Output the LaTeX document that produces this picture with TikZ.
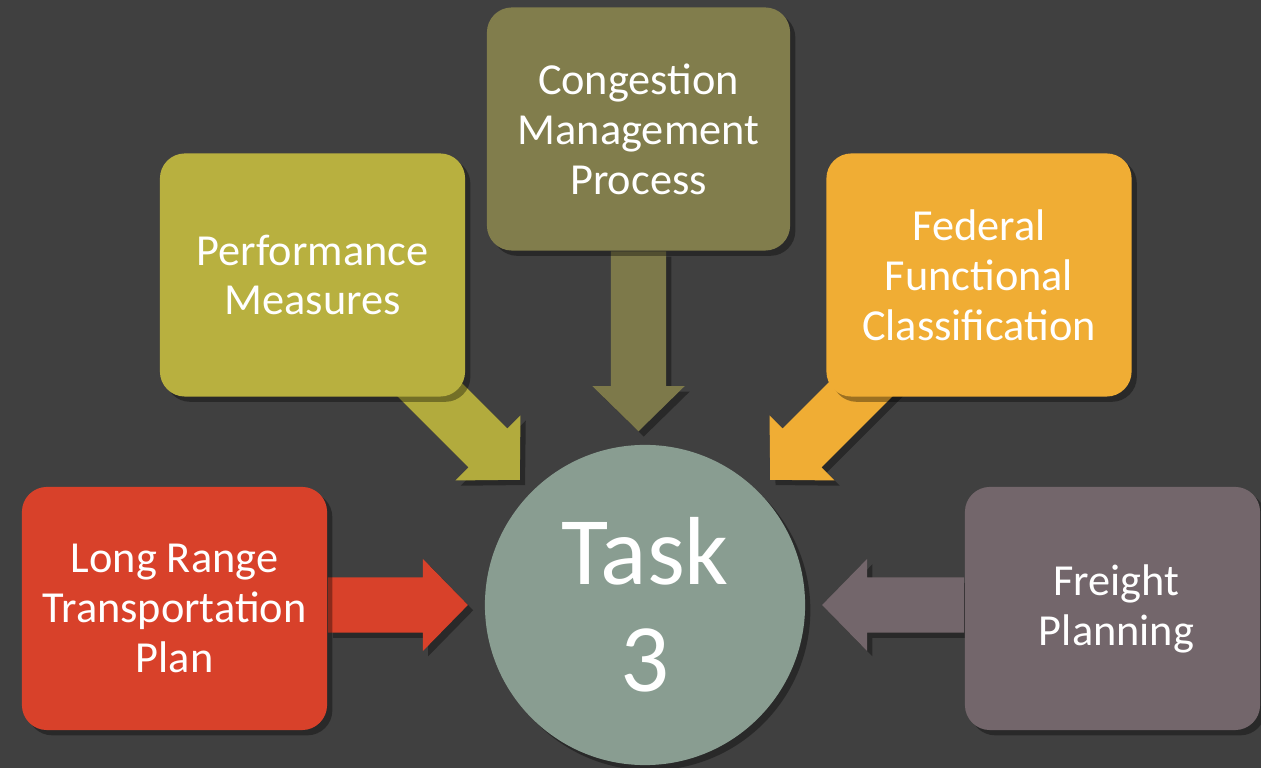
\documentclass[tikz,border=0pt]{standalone}
\usepackage{fontspec}
\setmainfont{Carlito}
\usepackage{xcolor}
\usepackage{tikz}
\usetikzlibrary{shapes,positioning,calc,shadows,backgrounds}

\definecolor{slide}{HTML}{404040}
\definecolor{lrtpred}{HTML}{D8412A}
\definecolor{perfgreen}{HTML}{B8B03F}
\definecolor{cmpolive}{HTML}{817D4C}
\definecolor{ffcorange}{HTML}{F0AD34}
\definecolor{freightmauve}{HTML}{73666B}
\definecolor{taskgreen}{HTML}{899D91}

\tikzset{softshadow/.style={drop shadow={shadow xshift=1.5pt, shadow yshift=-1.5pt, opacity=0.35, fill=black}}}

% fat arrow: colour, start, tip
\newcommand{\blockarrow}[3]{%
  \coordinate (ba-h) at ($(#3)!0.45cm!(#2)$);
  \fill[#1, softshadow]
    ($(#2)!0.275cm!90:(#3)$) -- ($(ba-h)!0.275cm!90:(#3)$) -- ($(ba-h)!0.46cm!90:(#3)$)
    -- (#3) -- ($(ba-h)!0.46cm!-90:(#3)$) -- ($(ba-h)!0.275cm!-90:(#3)$)
    -- ($(#2)!0.275cm!-90:(#3)$) -- cycle;}

\begin{document}
\begin{tikzpicture}[x=0.01cm, y=-0.01cm,
    box/.style={rectangle, rounded corners=0.25cm, minimum width=3.05cm, minimum height=2.43cm,
      text=white, align=center, font=\fontsize{12.6}{14.2}\selectfont, softshadow},
    hub/.style={circle, minimum size=3.2cm, inner sep=0pt, fill=taskgreen, text=white,
      align=center, font=\fontsize{27.5}{30.5}\selectfont, softshadow}]
    \useasboundingbox (0,0) rectangle (1261,768);
    \begin{scope}[on background layer]
      \fill[slide] (0,0) rectangle (1261,768); % slide
    \end{scope}

    % Centre and the five inputs
    \node[hub] (task) at (645,605) {Task\\3};
    \node[box, fill=lrtpred] (lrtp) at (174.5,608.5) {Long Range\\Transportation\\Plan};
    \node[box, fill=perfgreen] (perf) at (312.5,275) {Performance\\Measures};
    \node[box, fill=cmpolive, minimum width=3.03cm] (cmp) at (638.5,129) {Congestion\\Management\\Process};
    \node[box, fill=ffcorange] (ffc) at (979,275) {Federal\\Functional\\Classification};
    \node[box, fill=freightmauve, minimum width=2.95cm] (freight) at (1112.5,608.5) {\hspace{0.08cm}Freight\\\hspace{0.08cm}Planning};

    % Arrow ends
    \coordinate (lrtptip) at ($(task.center)+(180:1.77cm)$);
    \coordinate (lrtpstart) at (lrtp.east |- lrtptip);
    \coordinate (perftip) at ($(task.center)+(135:1.77cm)$);
    \coordinate (perfstart) at ($(perftip)+(135:1.6cm)$);
    \coordinate (cmptip) at ($(cmp.south)+(0,180)$);
    \coordinate (ffctip) at ($(task.center)+(45:1.77cm)$);
    \coordinate (ffcstart) at ($(ffctip)+(45:1.6cm)$);
    \coordinate (freighttip) at ($(task.center)+(0:1.77cm)$);
    \coordinate (freightstart) at (freight.west |- freighttip);

    \begin{scope}[on background layer]
      \blockarrow{lrtpred}{lrtpstart}{lrtptip}
      \blockarrow{perfgreen!97!black}{perfstart}{perftip}
      \blockarrow{cmpolive!97!black}{cmp.south}{cmptip}
      \blockarrow{ffcorange}{ffcstart}{ffctip}
      \blockarrow{freightmauve}{freightstart}{freighttip}
    \end{scope}
\end{tikzpicture}
\end{document}
